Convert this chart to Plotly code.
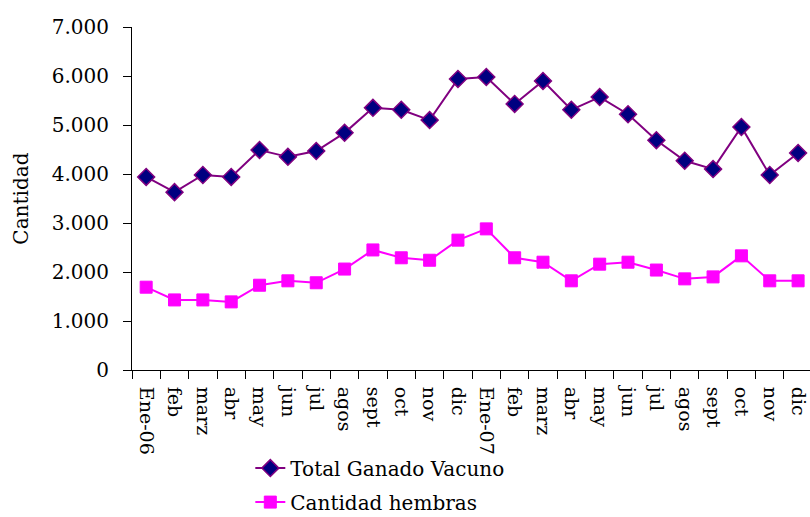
import plotly.graph_objects as go

categories = ["Ene-06", "feb", "marz", "abr", "may", "jun", "jul", "agos", "sept", "oct", "nov", "dic",
              "Ene-07", "feb", "marz", "abr", "may", "jun", "jul", "agos", "sept", "oct", "nov", "dic"]
total = [3940, 3630, 3980, 3940, 4490, 4350, 4470, 4840, 5350, 5310, 5100, 5940,
         5980, 5430, 5900, 5310, 5570, 5220, 4690, 4270, 4100, 4960, 3980, 4430]
hembras = [1690, 1430, 1430, 1390, 1730, 1820, 1780, 2060, 2450, 2290, 2240, 2650,
           2880, 2290, 2200, 1820, 2160, 2200, 2040, 1860, 1900, 2330, 1820, 1820]
yticks = [0, 1000, 2000, 3000, 4000, 5000, 6000, 7000]
ytext = ["0", "1.000", "2.000", "3.000", "4.000", "5.000", "6.000", "7.000"]

xs = list(range(len(categories)))
font = "DejaVu Serif"
fs = 20

fig = go.Figure()
fig.add_trace(go.Scatter(x=xs, y=total, name="Total Ganado Vacuno", mode="lines+markers",
                         legendgroup="a",
                         line=dict(color="#800080", width=2),
                         marker=dict(symbol="diamond", size=13, color="#000080",
                                     line=dict(color="#800080", width=1.5))))
fig.add_trace(go.Scatter(x=xs, y=hembras, name="Cantidad hembras", mode="lines+markers",
                         legendgroup="b",
                         line=dict(color="#FF00FF", width=2),
                         marker=dict(symbol="square", size=12, color="#FF00FF",
                                     line=dict(color="#FF00FF", width=1))))
# boundary ticks axis
fig.add_trace(go.Scatter(x=[0], y=[0], xaxis="x2", mode="markers", marker=dict(opacity=0),
                         showlegend=False, hoverinfo="skip"))

xr = [-0.5, 23.42]
fig.update_layout(
    width=810, height=517,
    margin=dict(l=132, r=0, t=27, b=147, autoexpand=False),
    paper_bgcolor="white", plot_bgcolor="white",
    font=dict(family=font, size=fs, color="black"),
    showlegend=True,
    legend=dict(x=0.1745, y=-0.442, xanchor="left", yanchor="bottom",
                font=dict(family=font, size=fs), traceorder="grouped", tracegroupgap=5,
                bgcolor="rgba(0,0,0,0)"),
    xaxis=dict(range=xr, tickmode="array", tickvals=xs, ticktext=categories,
               tickangle=90, ticks="outside", ticklen=12, tickcolor="rgba(0,0,0,0)",
               showgrid=False, zeroline=False, automargin=False,
               ticklabeloverflow="allow",
               showline=True, linecolor="black", linewidth=1,
               tickfont=dict(family=font, size=19)),
    xaxis2=dict(range=xr, overlaying="x", side="bottom", tickmode="array",
                tickvals=[i - 0.5 for i in range(25)], ticktext=[""] * 25,
                ticks="outside", ticklen=8, tickcolor="black", tickwidth=1,
                automargin=False,
                showgrid=False, zeroline=False, showline=False),
    yaxis=dict(range=[0, 7000], tickmode="array", tickvals=yticks, ticktext=ytext,
               ticks="outside", ticklen=8, tickcolor="black", showgrid=False,
               ticklabelstandoff=10, automargin=False,
               zeroline=False, showline=True, linecolor="black", linewidth=1,
               tickfont=dict(family=font, size=fs)),
    annotations=[dict(text="Cantidad", x=-0.165, y=0.5, xref="paper", yref="paper",
                      xanchor="center", yanchor="middle",
                      textangle=-90, showarrow=False, font=dict(family=font, size=fs))],
)
fig.write_html("out.html", config={"displayModeBar": False},
               post_script="document.body.style.margin='0';")
